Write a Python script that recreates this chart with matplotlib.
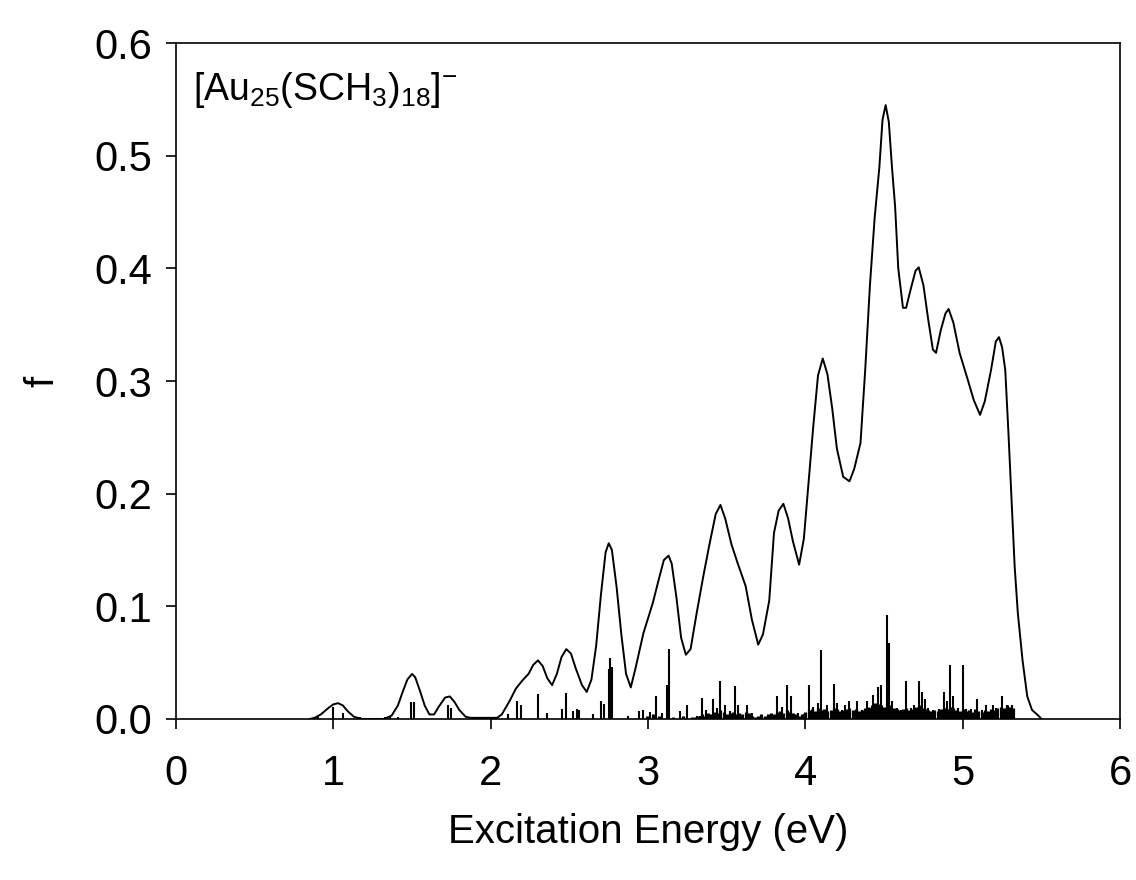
import matplotlib
matplotlib.use('Agg')
import matplotlib.pyplot as plt

plt.rcParams['font.family'] = ['Liberation Sans', 'DejaVu Sans']
plt.rcParams['mathtext.fontset'] = 'custom'
plt.rcParams['mathtext.rm'] = 'Liberation Sans'
plt.rcParams['mathtext.it'] = 'Liberation Sans'

# broadened spectrum
env_x = [0.85, 0.88, 0.92, 0.97, 1.00, 1.03, 1.06, 1.09, 1.13, 1.18,
         1.32, 1.37, 1.41, 1.44, 1.47, 1.50, 1.52, 1.55, 1.58, 1.61,
         1.64, 1.67, 1.71, 1.74, 1.77, 1.80, 1.84, 1.87, 2.04, 2.07,
         2.12, 2.16, 2.20, 2.24, 2.27, 2.30, 2.33, 2.36, 2.39, 2.42,
         2.45, 2.48, 2.51, 2.54, 2.58, 2.61, 2.64, 2.67, 2.70, 2.73,
         2.75, 2.77, 2.80, 2.83, 2.86, 2.89, 2.92, 2.97, 3.03, 3.07,
         3.10, 3.13, 3.15, 3.18, 3.21, 3.24, 3.27, 3.31, 3.35, 3.39,
         3.43, 3.46, 3.49, 3.53, 3.57, 3.62, 3.66, 3.70, 3.73, 3.77,
         3.80, 3.83, 3.86, 3.89, 3.92, 3.96, 3.99, 4.02, 4.05, 4.08,
         4.11, 4.14, 4.17, 4.20, 4.24, 4.28, 4.31, 4.35, 4.38, 4.41,
         4.44, 4.47, 4.49, 4.51, 4.53, 4.55, 4.57, 4.59, 4.62, 4.64,
         4.67, 4.70, 4.72, 4.75, 4.78, 4.81, 4.83, 4.86, 4.89, 4.91,
         4.94, 4.98, 5.03, 5.07, 5.11, 5.14, 5.18, 5.21, 5.23, 5.25,
         5.27, 5.29, 5.31, 5.33, 5.35, 5.38, 5.41, 5.44, 5.48, 5.50]
env_f = [0.0, 0.001, 0.004, 0.010, 0.013, 0.014, 0.012, 0.007, 0.002, 0.0,
         0.0, 0.003, 0.012, 0.024, 0.035, 0.040, 0.037, 0.025, 0.012, 0.004,
         0.004, 0.011, 0.019, 0.020, 0.015, 0.008, 0.002, 0.001, 0.001, 0.004,
         0.016, 0.027, 0.034, 0.040, 0.048, 0.052, 0.047, 0.036, 0.030, 0.040,
         0.055, 0.062, 0.058, 0.045, 0.030, 0.024, 0.035, 0.065, 0.110, 0.148,
         0.156, 0.150, 0.117, 0.075, 0.040, 0.028, 0.045, 0.076, 0.103, 0.125,
         0.141, 0.145, 0.138, 0.108, 0.072, 0.057, 0.062, 0.095, 0.126, 0.155,
         0.182, 0.190, 0.178, 0.155, 0.138, 0.118, 0.088, 0.066, 0.075, 0.105,
         0.165, 0.185, 0.191, 0.178, 0.158, 0.137, 0.160, 0.210, 0.260, 0.305,
         0.320, 0.306, 0.276, 0.240, 0.215, 0.211, 0.222, 0.245, 0.310, 0.385,
         0.445, 0.490, 0.532, 0.545, 0.530, 0.490, 0.455, 0.400, 0.365, 0.365,
         0.382, 0.398, 0.401, 0.385, 0.355, 0.328, 0.325, 0.345, 0.360, 0.364,
         0.352, 0.325, 0.302, 0.283, 0.270, 0.282, 0.310, 0.335, 0.339, 0.330,
         0.310, 0.255, 0.195, 0.135, 0.094, 0.052, 0.020, 0.008, 0.003, 0.0]

# main transitions (stick spectrum)
stick_x = [0.88, 0.90, 1.00, 1.06, 1.15, 1.17, 1.33, 1.36, 1.41, 1.49,
           1.51, 1.73, 1.75, 1.92, 1.97, 2.02, 2.11, 2.17, 2.19, 2.30,
           2.36, 2.45, 2.48, 2.52, 2.55, 2.56, 2.65, 2.70, 2.72, 2.75,
           2.76, 2.77, 2.87, 2.94, 2.97, 3.01, 3.05, 3.09, 3.12, 3.13,
           3.20, 3.25, 3.31, 3.33, 3.34, 3.37, 3.41, 3.44, 3.46, 3.49,
           3.52, 3.55, 3.57, 3.63, 3.66, 3.82, 3.85, 3.88, 3.91, 3.95,
           3.99, 4.02, 4.05, 4.08, 4.10, 4.14, 4.18, 4.20, 4.23, 4.25,
           4.28, 4.33, 4.36, 4.39, 4.41, 4.43, 4.46, 4.48, 4.51, 4.52,
           4.53, 4.55, 4.58, 4.61, 4.64, 4.67, 4.69, 4.72, 4.74, 4.76,
           4.78, 4.81, 4.85, 4.88, 4.90, 4.92, 4.94, 4.97, 5.00, 5.02,
           5.05, 5.09, 5.12, 5.15, 5.19, 5.21, 5.25, 5.28, 5.31]
stick_f = [0.002, 0.002, 0.011, 0.005, 0.002, 0.002, 0.002, 0.002, 0.002, 0.015,
           0.015, 0.012, 0.010, 0.001, 0.001, 0.001, 0.004, 0.016, 0.012, 0.022,
           0.005, 0.009, 0.023, 0.007, 0.009, 0.008, 0.004, 0.016, 0.013, 0.044,
           0.054, 0.046, 0.003, 0.007, 0.008, 0.006, 0.020, 0.005, 0.030, 0.062,
           0.007, 0.012, 0.003, 0.003, 0.019, 0.008, 0.018, 0.010, 0.034, 0.012,
           0.007, 0.029, 0.012, 0.012, 0.005, 0.020, 0.011, 0.030, 0.020, 0.005,
           0.004, 0.030, 0.011, 0.014, 0.061, 0.012, 0.031, 0.014, 0.008, 0.012,
           0.016, 0.016, 0.008, 0.016, 0.010, 0.021, 0.028, 0.030, 0.010, 0.092,
           0.067, 0.016, 0.010, 0.008, 0.034, 0.010, 0.012, 0.034, 0.024, 0.018,
           0.010, 0.008, 0.009, 0.024, 0.016, 0.048, 0.020, 0.010, 0.048, 0.009,
           0.009, 0.018, 0.008, 0.012, 0.012, 0.010, 0.020, 0.012, 0.012]

# weak transitions filling the high-energy region
minor_x = [2.99, 3.03, 3.07, 3.16, 3.22, 3.28,
           3.30, 3.32, 3.34, 3.36, 3.38, 3.40, 3.42, 3.44, 3.46, 3.48,
           3.50, 3.52, 3.54, 3.56, 3.58, 3.60, 3.62, 3.64, 3.66, 3.68,
           3.70, 3.72, 3.74, 3.76, 3.78, 3.80, 3.82, 3.84, 3.86, 3.88,
           3.90, 3.92, 3.94, 3.96, 3.98, 4.00, 4.02, 4.04, 4.06, 4.08,
           4.10, 4.12, 4.14, 4.16, 4.18, 4.20, 4.22, 4.24, 4.26, 4.28,
           4.30, 4.32, 4.34, 4.36, 4.38, 4.40, 4.42, 4.44, 4.46, 4.48,
           4.50, 4.54, 4.56, 4.58, 4.60, 4.62, 4.64, 4.66, 4.68, 4.70,
           4.72, 4.74, 4.76, 4.78, 4.80, 4.82, 4.84, 4.86, 4.88, 4.90,
           4.92, 4.94, 4.96, 4.98, 5.00, 5.02, 5.04, 5.06, 5.08, 5.10,
           5.12, 5.14, 5.16, 5.18, 5.20, 5.22, 5.24, 5.26, 5.28, 5.30, 5.32]
minor_f = [0.003, 0.004, 0.003, 0.002, 0.003, 0.002,
           0.002, 0.003, 0.004, 0.003, 0.005, 0.004, 0.006, 0.005, 0.008, 0.006,
           0.004, 0.005, 0.006, 0.004, 0.005, 0.004, 0.006, 0.005, 0.003, 0.002,
           0.003, 0.004, 0.003, 0.004, 0.005, 0.004, 0.006, 0.007, 0.005, 0.008,
           0.006, 0.005, 0.004, 0.003, 0.004, 0.006, 0.008, 0.009, 0.007, 0.010,
           0.008, 0.009, 0.007, 0.008, 0.010, 0.009, 0.007, 0.008, 0.009, 0.010,
           0.008, 0.009, 0.007, 0.008, 0.010, 0.011, 0.012, 0.014, 0.013, 0.012,
           0.011, 0.012, 0.010, 0.009, 0.008, 0.009, 0.010, 0.008, 0.009, 0.011,
           0.012, 0.010, 0.009, 0.008, 0.007, 0.008, 0.007, 0.009, 0.010, 0.009,
           0.011, 0.010, 0.008, 0.007, 0.009, 0.007, 0.008, 0.006, 0.009, 0.007,
           0.006, 0.008, 0.007, 0.009, 0.008, 0.010, 0.011, 0.010, 0.012, 0.011, 0.010]

x_ticks = [0, 1, 2, 3, 4, 5, 6]
y_ticks = [0.0, 0.1, 0.2, 0.3, 0.4, 0.5, 0.6]

fig = plt.figure(figsize=(11.36, 8.8), dpi=100)
ax = fig.add_axes([0.155, 0.183, 0.831, 0.768])

ax.vlines(minor_x, 0, minor_f, color='black', linewidth=2.3)
ax.vlines(stick_x, 0, stick_f, color='black', linewidth=1.5)
ax.plot(env_x, env_f, color='black', linewidth=1.4)

ax.set_xlim(0, 6)
ax.set_ylim(0, 0.6)
ax.set_xticks(x_ticks)
ax.set_xticklabels([str(t) for t in x_ticks])
ax.set_yticks(y_ticks)
ax.set_yticklabels([f"{t:.1f}" for t in y_ticks])
ax.tick_params(direction='out', length=7, width=1.2, labelsize=30, pad=10)
ax.tick_params(axis='x', pad=18)
for s in ax.spines.values():
    s.set_linewidth(1.2)

ax.set_xlabel("Excitation Energy (eV)", fontsize=29, labelpad=14)
ax.set_ylabel("f", fontsize=29, labelpad=24)

ax.text(0.018, 0.96, r"[Au$_{25}$(SCH$_{3}$)$_{18}$]$^{-}$", transform=ax.transAxes,
        fontsize=27, ha='left', va='top')

fig.savefig("out.png", dpi=100, facecolor='white')
plt.close(fig)
